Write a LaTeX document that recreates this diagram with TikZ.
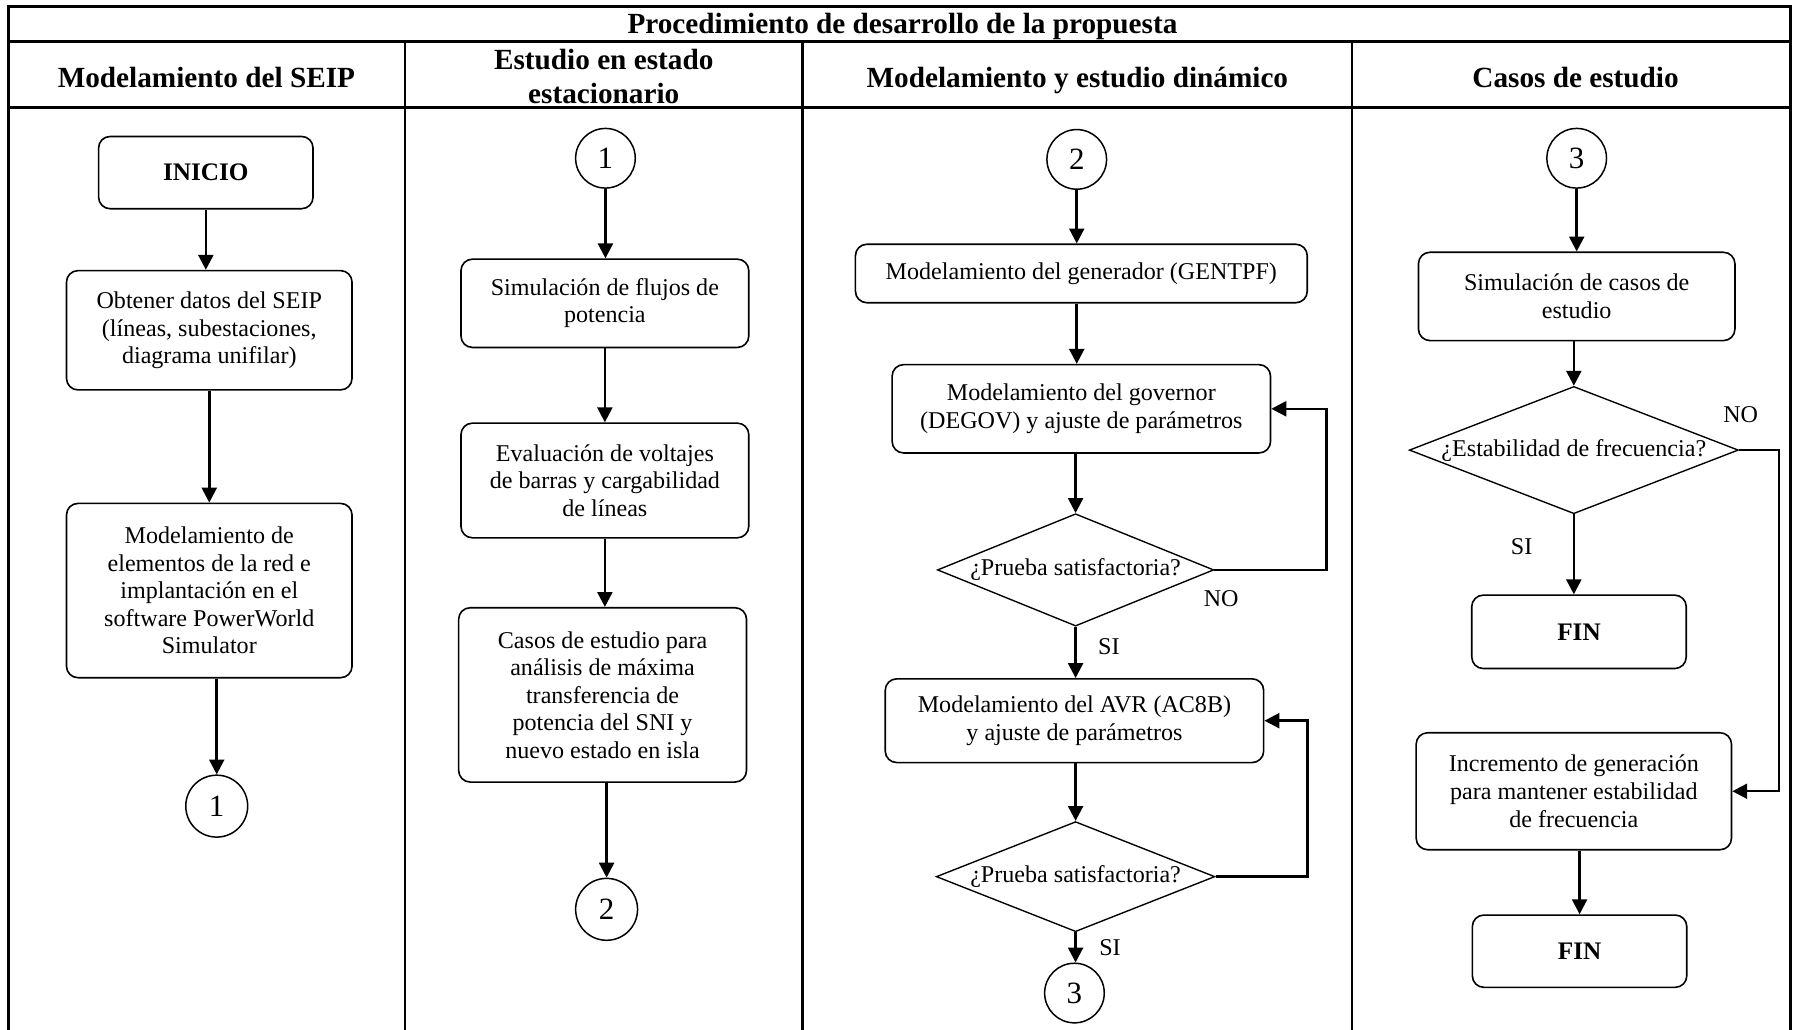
\documentclass[tikz,border=0pt]{standalone}
\usepackage{fontspec}
\setmainfont{Liberation Serif}
\usetikzlibrary{arrows.meta,shapes.geometric}

\begin{document}
\begin{tikzpicture}[x=1pt,y=-1pt,
  body/.style={font=\fontsize{21}{24}\selectfont},
  head/.style={font=\fontsize{25.5}{29.6}\selectfont\bfseries, align=center},
  onehead/.style={head, text height=18pt, text depth=6pt},
  procbox/.style={draw, line width=1.4pt, rounded corners=10pt, align=center, inner sep=0pt, body},
  termbox/.style={procbox, font=\fontsize{22}{24}\selectfont\bfseries},
  connector/.style={draw, circle, line width=1.3pt, minimum size=52pt, inner sep=0pt,
    font=\fontsize{27}{30}\selectfont},
  decision/.style={draw, diamond, line width=1.2pt, inner sep=0pt, body},
  flow/.style={line width=2.2pt, -{Triangle[length=13pt,width=13pt]}},
  loopback/.style={flow, rounded corners=0pt},
  branch/.style={body},
  grid/.style={line width=2.2pt}
]
\useasboundingbox (0,0) rectangle (1568,898);

% ---- table frame ----
\draw[grid] (7.5,898) -- (7.5,5.8) -- (1561.6,5.8) -- (1561.6,898);
\draw[grid] (7.5,36.3) -- (1561.6,36.3);
\draw[grid] (7.5,93.6) -- (1561.6,93.6);
\foreach \cx in {353,700,1179} \draw[grid] (\cx,36.3) -- (\cx,898);

\node[onehead] (title) at (787,23) {Procedimiento de desarrollo de la propuesta};
\node[onehead] (h1) at (180,70) {Modelamiento del SEIP};
\node[head] (h2) at (526.5,67) {Estudio en estado\\estacionario};
\node[onehead] (h3) at (939.5,70) {Modelamiento y estudio din\'amico};
\node[onehead] (h4) at (1374,70) {Casos de estudio};

% ---- column 1 ----
\node[termbox, minimum width=187pt, minimum height=63pt] (inicio) at (179.5,150.5) {INICIO};
\node[procbox, minimum width=249pt, minimum height=104pt] (obt) at (182.5,288)
  {Obtener datos del SEIP\\(líneas, subestaciones,\\diagrama unifilar)};
\node[procbox, minimum width=249pt, minimum height=152pt] (red) at (182.5,515)
  {Modelamiento de\\elementos de la red e\\implantación en el\\software PowerWorld\\Simulator};
\node[connector, minimum size=54pt] (ca1) at (189,703) {1};

\draw[flow] (inicio.south) -- (inicio.south |- obt.north);
\draw[flow] (obt.south) -- (obt.south |- red.north);
\draw[flow] (red.south -| ca1.north) -- (ca1.north);

% ---- column 2 ----
\node[connector] (cb1) at (528,138) {1};
\node[procbox, minimum width=251pt, minimum height=77pt] (flujos) at (527.5,264.5)
  {Simulación de flujos de\\potencia};
\node[procbox, minimum width=251pt, minimum height=100pt] (volt) at (527.5,419)
  {Evaluación de voltajes\\de barras y cargabilidad\\de líneas};
\node[procbox, minimum width=251pt, minimum height=152pt] (casos) at (525.5,606)
  {Casos de estudio para\\análisis de máxima\\transferencia de\\potencia del SNI y\\nuevo estado en isla};
\node[connector, minimum size=54pt] (ca2) at (529,793) {2};

\draw[flow] (cb1.south) -- (cb1.south |- flujos.north);
\draw[flow] (flujos.south) -- (flujos.south |- volt.north);
\draw[flow] (volt.south) -- (volt.south |- casos.north);
\draw[flow] (casos.south -| ca2.north) -- (ca2.north);

% ---- column 3 ----
\node[connector] (cb2) at (939,139) {2};
\node[procbox, minimum width=394pt, minimum height=51pt] (gen) at (943,238.5)
  {Modelamiento del generador (GENTPF)};
\node[procbox, minimum width=330pt, minimum height=77pt] (gov) at (943,356.5)
  {Modelamiento del governor\\(DEGOV) y ajuste de parámetros};
\node[decision, minimum width=241pt, minimum height=98pt] (d1) at (938,497)
  {\makebox[0pt]{¿Prueba satisfactoria?}};
\node[procbox, minimum width=330pt, minimum height=73pt] (avr) at (937,628.5)
  {Modelamiento del AVR (AC8B)\\y ajuste de parámetros};
\node[decision, minimum width=243pt, minimum height=96pt] (d2) at (938,764.5)
  {\makebox[0pt]{¿Prueba satisfactoria?}};
\node[connector] (ca3) at (937,866) {3};

\draw[flow] (cb2.south) -- (cb2.south |- gen.north);
\draw[flow] (gen.south -| cb2.south) -- (cb2.south |- gov.north);
\draw[flow] (gov.south -| d1.north) -- (d1.north);
\draw[flow] (d1.south) -- (d1.south |- avr.north);
\draw[flow] (avr.south -| d2.north) -- (d2.north);
\draw[flow] (d2.south) -- (d2.south |- ca3.north);
\draw[loopback] (d1.east) -- ++(97.5,0) |- (gov.east);
\draw[loopback] (d2.east) -- ++(80,0) |- (avr.east);

\node[branch] (no1) at (1065,522) {NO};
\node[branch] (si1) at (967,564) {SI};
\node[branch] (si2) at (968,826) {SI};

% ---- column 4 ----
\node[connector] (cb3) at (1375,138) {3};
\node[procbox, minimum width=276pt, minimum height=77pt] (simc) at (1375,258.5)
  {Simulación de casos de\\estudio};
\node[decision, minimum width=287pt, minimum height=111pt] (d3) at (1372.5,392.5)
  {\makebox[0pt]{¿Estabilidad de frecuencia?}};
\node[termbox, minimum width=187pt, minimum height=64pt] (fin1) at (1377,551) {FIN};
\node[procbox, minimum width=275pt, minimum height=102pt] (inc) at (1372.5,690)
  {Incremento de generación\\para mantener estabilidad\\de frecuencia};
\node[termbox, minimum width=187pt, minimum height=63pt] (fin2) at (1377.5,829.5) {FIN};

\draw[flow] (cb3.south) -- (cb3.south |- simc.north);
\draw[flow] (simc.south -| d3.north) -- (d3.north);
\draw[flow] (d3.south) -- (d3.south |- fin1.north);
\draw[flow] (inc.south -| fin2.north) -- (fin2.north);
\draw[loopback] (d3.east) -- ++(35,0) |- (inc.east);

\node[branch] (no2) at (1518,362) {NO};
\node[branch] (si3) at (1327,477) {SI};
\end{tikzpicture}
\end{document}
